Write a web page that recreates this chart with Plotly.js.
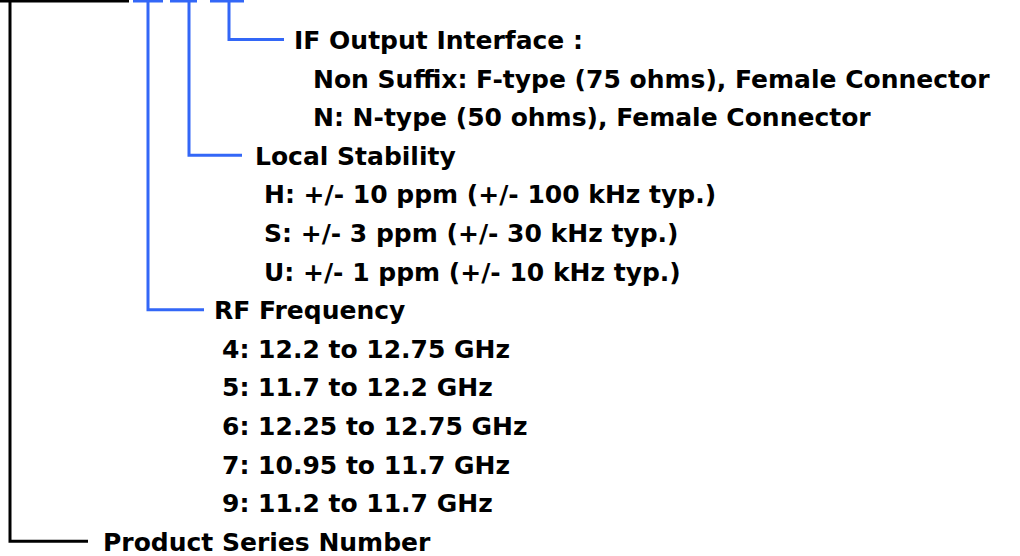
<!DOCTYPE html>
<html><head><meta charset="utf-8">
<script src="https://cdn.plot.ly/plotly-3.0.1.min.js"></script>
<style>html,body{margin:0;padding:0;background:#fff}#c{width:1020px;height:556px}</style>
</head><body><div id="c"></div>
<script>
const groupTitles = ["IF Output Interface :", "Local Stability", "RF Frequency", "Product Series Number"];
const ifItems = ["Non Suffix: F-type (75 ohms), Female Connector", "N: N-type (50 ohms), Female Connector"];
const stabilityItems = ["H: +/- 10 ppm (+/- 100 kHz typ.)", "S: +/- 3 ppm (+/- 30 kHz typ.)", "U: +/- 1 ppm (+/- 10 kHz typ.)"];
const rfItems = ["4: 12.2 to 12.75 GHz", "5: 11.7 to 12.2 GHz", "6: 12.25 to 12.75 GHz", "7: 10.95 to 11.7 GHz", "9: 11.2 to 11.7 GHz"];

const blue = "#3367f7", black = "#000";
const font = {family: "DejaVu Sans, Verdana, sans-serif", size: 25, color: "#000", weight: "bold"};
const rowY = r => 40.5 + r * 38.6;

// group layout: branch x (vertical line), elbow end x, title x, item x, top cap
const groups = [
  {title: groupTitles[0], items: ifItems, vx: 229, hx: 284, tx: 293, ix: 312, cap: [210, 244], color: blue},
  {title: groupTitles[1], items: stabilityItems, vx: 189, hx: 242, tx: 254, ix: 263, cap: [170, 197], color: blue},
  {title: groupTitles[2], items: rfItems, vx: 148, hx: 204, tx: 213, ix: 221, cap: [133, 163], color: blue},
  {title: groupTitles[3], items: [], vx: 10, hx: 88, tx: 102, ix: 0, cap: [0, 129], color: black}
];

const annotations = [], shapes = [];
let row = 0;
groups.forEach(g => {
  const ty = rowY(row);
  annotations.push({x: g.tx, y: ty, xref: "x", yref: "y", text: g.title, showarrow: false, xanchor: "left", yanchor: "middle", borderpad: 0, font: font});
  shapes.push({type: "path", xref: "x", yref: "y", path: `M ${g.cap[0]} 1 L ${g.cap[1]} 1`, line: {color: g.color, width: 3}});
  shapes.push({type: "path", xref: "x", yref: "y", path: `M ${g.vx} 0 L ${g.vx} ${ty - 1} L ${g.hx} ${ty - 1}`, line: {color: g.color, width: 3}});
  row++;
  g.items.forEach(t => {
    annotations.push({x: g.ix, y: rowY(row), xref: "x", yref: "y", text: t, showarrow: false, xanchor: "left", yanchor: "middle", borderpad: 0, font: font});
    row++;
  });
});

Plotly.newPlot("c", [], {
  width: 1020, height: 556,
  margin: {l: 0, r: 0, t: 0, b: 0},
  paper_bgcolor: "#fff", plot_bgcolor: "#fff",
  xaxis: {range: [0, 1020], visible: false, fixedrange: true},
  yaxis: {range: [556, 0], visible: false, fixedrange: true},
  showlegend: false,
  annotations: annotations, shapes: shapes
}, {staticPlot: true});
</script></body></html>
